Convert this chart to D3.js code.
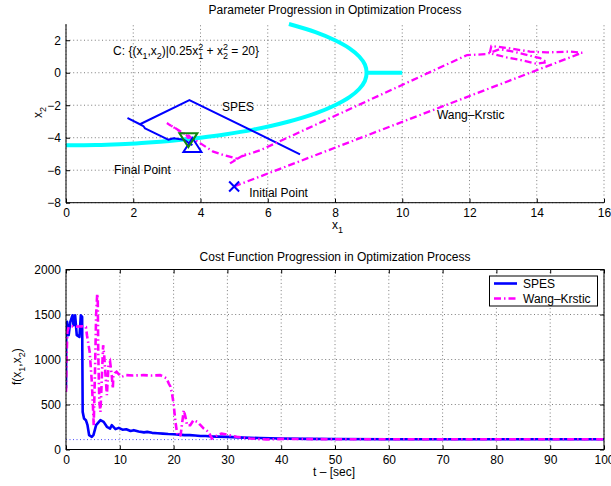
<!DOCTYPE html>
<html>
<head>
<meta charset="utf-8">
<script src="https://cdn.jsdelivr.net/npm/d3@7"></script>
<style>
body { margin: 0; background: #fff; }
svg { display: block; font-family: "Liberation Sans", Arial, Helvetica, sans-serif; }
</style>
</head>
<body>
<svg id="chart" width="611" height="486"></svg>
<script>
// ---- top plot: parameter path ----
// constraint curve C (right half of the ellipse, plus the short tail at x2 = 0)
const curveX1 = [0, 0.89, 1.6, 2.08, 2.46, 3.07, 3.57, 4.0, 4.72, 5.57, 6.63, 7.42, 8.0, 8.43, 8.72, 8.89, 8.94, 8.89, 8.72, 8.43, 8.0, 7.42, 6.63];
const curveX2 = [-4.47, -4.45, -4.4, -4.35, -4.3, -4.2, -4.1, -4.0, -3.8, -3.5, -3.0, -2.5, -2.0, -1.5, -1.0, -0.5, 0, 0.5, 1.0, 1.5, 2.0, 2.5, 3.0];
const tailX1 = [8.94, 10];
const tailX2 = [0, 0];

const spesX1 = [6.96, 3.67, 2.2, 1.85, 2.3, 2.35, 3.04, 3.2, 3.35, 3.5, 3.64, 3.76];
const spesX2 = [-5.02, -1.68, -3.17, -2.81, -3.28, -3.42, -4.12, -4.03, -4.08, -4.12, -4.3, -4.45];

const wkX1 = [5.0, 15.35, 15.0, 14.3, 13.8, 13.2, 12.65, 12.6, 13.1, 13.6, 14.0, 14.3, 14.1, 13.7, 13.3, 12.9, 12.5, 12.1, 11.93, 5.8, 5.5, 5.2, 5.35, 5.0, 4.88, 5.1, 4.68, 4.38, 4.0, 3.0, 3.64];
const wkX2 = [-7.0, 1.23, 1.3, 1.25, 1.3, 1.5, 1.65, 1.2, 0.95, 0.75, 0.55, 0.65, 0.9, 1.1, 1.3, 1.45, 1.15, 1.1, 1.09, -4.75, -4.96, -5.17, -5.0, -5.4, -5.58, -5.3, -5.06, -4.86, -4.35, -3.1, -3.94];

const initialPoint = [5, -7];
const spesFinal = [3.76, -4.45];
const wkFinal = [3.64, -4.15];

const topXTicks = [0, 2, 4, 6, 8, 10, 12, 14, 16];
const topYTicks = [-8, -6, -4, -2, 0, 2];

// ---- bottom plot: cost over time ----
const spesT = [0, 0.05, 0.2, 0.5, 0.8, 1.2, 1.4, 1.7, 2.0, 2.5, 2.75, 3.0, 3.1, 3.35, 3.7, 4.0, 4.3, 4.8, 5.1, 5.6, 6.4, 7.0, 7.6, 8.2, 8.5, 9.2, 9.8, 10.5, 11.2, 12, 12.6, 13.5, 14.5, 15.1, 16, 17, 18, 19, 20, 21, 22, 23, 24, 25, 26, 27, 28, 30, 33, 36, 40, 45, 50, 60, 70, 80, 90, 100];
const spesCost = [680, 1360, 1418, 1270, 1418, 1491, 1380, 1491, 1270, 1250, 1491, 1473, 418, 344, 326, 270, 159, 141, 159, 270, 326, 307, 252, 233, 270, 226, 240, 220, 225, 205, 215, 200, 190, 196, 185, 180, 176, 172, 170, 165, 160, 160, 155, 150, 150, 145, 143, 140, 132, 127, 122, 118, 116, 114, 114, 114, 114, 114];

const wkT = [0, 0.1, 0.25, 0.5, 1.0, 2.0, 3.0, 3.7, 3.9, 4.4, 4.8, 5.0, 5.15, 5.4, 5.6, 5.8, 5.9, 6.0, 6.2, 6.4, 6.6, 6.9, 7.1, 7.3, 7.6, 7.9, 8.2, 8.5, 8.7, 8.8, 9.1, 9.4, 9.7, 10.3, 11.2, 12.5, 14.4, 16, 17.5, 18.2, 18.7, 19.1, 19.4, 19.7, 20.0, 20.3, 20.7, 21.0, 21.3, 21.6, 21.9, 22.2, 22.5, 23.1, 23.7, 24.4, 25.0, 25.6, 26.5, 27.1, 27.7, 28.3, 28.9, 30.4, 31.7, 34.2, 37.3, 40.4, 45, 50, 60, 70, 80, 90, 100];
const wkCost = [640, 1000, 1310, 1360, 1370, 1365, 1370, 1360, 1270, 1085, 752, 493, 270, 900, 1500, 1730, 1678, 1048, 530, 418, 700, 1159, 1050, 863, 604, 937, 974, 826, 678, 807, 850, 863, 844, 807, 826, 822, 826, 822, 826, 807, 790, 733, 700, 622, 511, 326, 159, 150, 159, 300, 437, 363, 270, 270, 326, 307, 270, 233, 196, 122, 141, 165, 178, 159, 141, 122, 111, 118, 116, 114, 114, 114, 114, 114, 114];

const costFloor = 110;
const botXTicks = [0, 10, 20, 30, 40, 50, 60, 70, 80, 90, 100];
const botYTicks = [0, 500, 1000, 1500, 2000];
const legendNames = ["SPES", "Wang\u2013Krstic"];

const svg = d3.select("#chart");
const fontSize = 12;
const subSize = 9;

function zip(a, b) {
	return a.map((d, i) => [d, b[i]]);
}

function draw_grid(g, x, y, xt, yt) {
	const [x0, x1] = x.range();
	const [y0, y1] = y.range();
	g.selectAll("line.gx").data(xt).enter().append("line")
		.attr("x1", d => x(d)).attr("x2", d => x(d))
		.attr("y1", y0).attr("y2", y1)
		.attr("stroke", "#444").attr("stroke-width", 0.7)
		.attr("stroke-dasharray", "1,2.6");
	g.selectAll("line.gy").data(yt).enter().append("line")
		.attr("x1", x0).attr("x2", x1)
		.attr("y1", d => y(d)).attr("y2", d => y(d))
		.attr("stroke", "#444").attr("stroke-width", 0.7)
		.attr("stroke-dasharray", "1,2.6");
}

function draw_axes(g, x, y, xt, yt, box) {
	const fmt = d3.format("");
	const bottom = g.append("g").attr("transform", `translate(0,${y.range()[0]})`)
		.call(d3.axisBottom(x).tickValues(xt).tickFormat(fmt).tickSizeInner(-4).tickSizeOuter(0).tickPadding(6));
	const left = g.append("g").attr("transform", `translate(${x.range()[0]},0)`)
		.call(d3.axisLeft(y).tickValues(yt).tickFormat(fmt).tickSizeInner(-4).tickSizeOuter(0).tickPadding(5));
	[bottom, left].forEach(a => {
		a.select(".domain").remove();
		a.selectAll("text").attr("font-size", fontSize).attr("fill", "#000")
			.attr("font-family", "Liberation Sans, Arial, sans-serif");
		a.selectAll("line").attr("stroke", "#000");
	});
	if (box) {
		g.append("g").attr("transform", `translate(0,${y.range()[1]})`)
			.call(d3.axisTop(x).tickValues(xt).tickFormat("").tickSizeInner(-4).tickSizeOuter(0))
			.call(a => a.select(".domain").remove());
		g.append("g").attr("transform", `translate(${x.range()[1]},0)`)
			.call(d3.axisRight(y).tickValues(yt).tickFormat("").tickSizeInner(-4).tickSizeOuter(0))
			.call(a => a.select(".domain").remove());
		g.append("rect")
			.attr("x", x.range()[0]).attr("y", y.range()[1])
			.attr("width", x.range()[1] - x.range()[0])
			.attr("height", y.range()[0] - y.range()[1])
			.attr("fill", "none").attr("stroke", "#000").attr("stroke-width", 1);
	} else {
		g.append("line").attr("x1", x.range()[0]).attr("x2", x.range()[1])
			.attr("y1", y.range()[0]).attr("y2", y.range()[0]).attr("stroke", "#000");
		g.append("line").attr("x1", x.range()[0]).attr("x2", x.range()[0])
			.attr("y1", y.range()[0]).attr("y2", y.range()[1]).attr("stroke", "#000");
	}
}

// appends "base" then a subscript, returning to the baseline afterwards
function add_sub(t, base, sub, first) {
	t.append("tspan").text(base).attr("dy", first ? 0 : -3.5);
	t.append("tspan").text(sub).attr("font-size", subSize).attr("dy", 3.5);
}

function draw_top() {
	const x = d3.scaleLinear().domain([0, 16]).range([66, 604]);
	const y = d3.scaleLinear().domain([-8, 3]).range([202.7, 24]);
	const g = svg.append("g");

	g.append("text").attr("x", 335).attr("y", 14).attr("text-anchor", "middle")
		.attr("font-size", fontSize).text("Parameter Progression in Optimization Process");

	draw_grid(g, x, y, topXTicks, topYTicks);

	const line = d3.line().x(d => x(d[0])).y(d => y(d[1]));
	const smooth = d3.line().x(d => x(d[0])).y(d => y(d[1])).curve(d3.curveCatmullRom);

	g.append("path").attr("d", smooth(zip(curveX1, curveX2)))
		.attr("fill", "none").attr("stroke", "#00ffff").attr("stroke-width", 4);
	g.append("path").attr("d", line(zip(tailX1, tailX2)))
		.attr("fill", "none").attr("stroke", "#00ffff").attr("stroke-width", 4);

	g.append("path").attr("d", line(zip(spesX1, spesX2)))
		.attr("fill", "none").attr("stroke", "#0000ff").attr("stroke-width", 2)
		.attr("stroke-linejoin", "round");

	g.append("path").attr("d", line(zip(wkX1, wkX2)))
		.attr("fill", "none").attr("stroke", "#ff00ff").attr("stroke-width", 2.3)
		.attr("stroke-dasharray", "7,3,1.5,3");

	// markers
	g.append("path").attr("transform", `translate(${x(initialPoint[0])},${y(initialPoint[1])})`)
		.attr("d", "M-5,-5L5,5M-5,5L5,-5")
		.attr("stroke", "#0000ff").attr("stroke-width", 2).attr("fill", "none");
	g.append("path").attr("transform", `translate(${x(spesFinal[0])},${y(spesFinal[1])})`)
		.attr("d", "M0,-7L9,7L-9,7Z")
		.attr("stroke", "#0000ff").attr("stroke-width", 2).attr("fill", "none");
	g.append("circle").attr("cx", x(wkX1[wkX1.length - 1])).attr("cy", y(wkX2[wkX2.length - 1]))
		.attr("r", 2.3).attr("fill", "#ff00ff");
	g.append("path").attr("transform", `translate(${x(wkFinal[0])},${y(wkFinal[1])})`)
		.attr("d", "M-9,-7L9,-7L0,7Z")
		.attr("stroke", "#118811").attr("stroke-width", 2).attr("fill", "none");

	draw_axes(g, x, y, topXTicks, topYTicks, false);

	// constraint label with stacked sub/superscripts
	const cx = x(1.4), cy = y(1.09);
	const c = g.append("text").attr("x", cx).attr("y", cy).attr("font-size", fontSize);
	add_sub(c, "C: {(x", "1", true);
	add_sub(c, ",x", "2");
	add_sub(c, ")|0.25x", "1");
	const sup1 = c.node().getComputedTextLength();
	add_sub(c, " + x", "2");
	const sup2 = c.node().getComputedTextLength();
	c.append("tspan").text(" = 20}").attr("dy", -3.5);
	const w1 = c.selectAll("tspan").nodes()[5].getComputedTextLength();
	const w2 = c.selectAll("tspan").nodes()[7].getComputedTextLength();
	g.append("text").attr("x", cx + sup1 - w1).attr("y", cy - 5.5).attr("font-size", subSize).text("2");
	g.append("text").attr("x", cx + sup2 - w2).attr("y", cy - 5.5).attr("font-size", subSize).text("2");

	g.append("text").attr("x", x(4.64)).attr("y", y(-2.34)).attr("font-size", fontSize).text("SPES");
	g.append("text").attr("x", x(1.43)).attr("y", y(-6.26)).attr("font-size", fontSize).text("Final Point");
	g.append("text").attr("x", x(5.45)).attr("y", y(-7.65)).attr("font-size", fontSize).text("Initial Point");
	g.append("text").attr("x", x(11.03)).attr("y", y(-2.85)).attr("font-size", fontSize).text("Wang\u2013Krstic");

	// axis labels
	const xl = g.append("text").attr("x", 332).attr("y", 229).attr("font-size", fontSize);
	add_sub(xl, "x", "1", true);
	const yl = g.append("text").attr("transform", "translate(42,118) rotate(-90)").attr("font-size", fontSize);
	add_sub(yl, "x", "2", true);
}

function draw_bottom() {
	const x = d3.scaleLinear().domain([0, 100]).range([66, 604]);
	const y = d3.scaleLinear().domain([0, 2000]).range([449.5, 269.5]);
	const g = svg.append("g");

	g.append("text").attr("x", 335).attr("y", 260.5).attr("text-anchor", "middle")
		.attr("font-size", fontSize).text("Cost Function Progression in Optimization Process");

	draw_grid(g, x, y, botXTicks, botYTicks);

	g.append("clipPath").attr("id", "clipb").append("rect")
		.attr("x", 66).attr("y", 269.5).attr("width", 538).attr("height", 180);
	const plot = g.append("g").attr("clip-path", "url(#clipb)");

	plot.append("line").attr("x1", x(0)).attr("x2", x(100))
		.attr("y1", y(costFloor)).attr("y2", y(costFloor))
		.attr("stroke", "#4a4aff").attr("stroke-width", 1).attr("stroke-dasharray", "1,2.5");

	const line = d3.line().x(d => x(d[0])).y(d => y(d[1]));
	plot.append("path").attr("d", line(zip(spesT, spesCost)))
		.attr("fill", "none").attr("stroke", "#0000ff").attr("stroke-width", 2.6)
		.attr("stroke-linejoin", "round");
	plot.append("path").attr("d", line(zip(wkT, wkCost)))
		.attr("fill", "none").attr("stroke", "#ff00ff").attr("stroke-width", 2.6)
		.attr("stroke-dasharray", "7,3,1.5,3");

	draw_axes(g, x, y, botXTicks, botYTicks, true);

	// legend
	const lg = g.append("g");
	lg.append("rect").attr("x", 489.5).attr("y", 276).attr("width", 108).attr("height", 30)
		.attr("fill", "#fff").attr("stroke", "#000").attr("stroke-width", 1);
	const styles = [
		{stroke: "#0000ff", dash: null},
		{stroke: "#ff00ff", dash: "7,3,1.5,3"}
	];
	legendNames.forEach((name, i) => {
		const ly = 283.5 + i * 15;
		lg.append("line").attr("x1", 494).attr("x2", 517).attr("y1", ly).attr("y2", ly)
			.attr("stroke", styles[i].stroke).attr("stroke-width", 2.6)
			.attr("stroke-dasharray", styles[i].dash);
		lg.append("text").attr("x", 523).attr("y", ly + 4.3).attr("font-size", fontSize).text(name);
	});

	g.append("text").attr("x", 334).attr("y", 476).attr("text-anchor", "middle")
		.attr("font-size", fontSize).text("t \u2013 [sec]");
	const yl = g.append("text").attr("transform", "translate(21,385) rotate(-90)").attr("font-size", fontSize);
	add_sub(yl, "f(x", "1", true);
	add_sub(yl, ",x", "2");
	yl.append("tspan").text(")").attr("dy", -3.5);
}

draw_top();
draw_bottom();
</script>
</body>
</html>
